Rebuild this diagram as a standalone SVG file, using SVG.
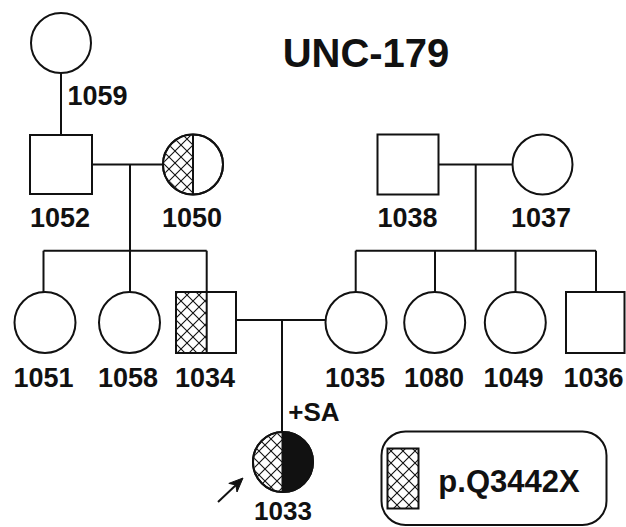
<svg xmlns="http://www.w3.org/2000/svg" width="626" height="527" viewBox="0 0 626 527">
<style>
.s{fill:#fff;stroke:#111;stroke-width:2}
.n{fill:none;stroke:#111;stroke-width:2}
.h{fill:url(#hatch);stroke:none}
.t{font-family:"Liberation Sans",Arial,sans-serif;font-weight:bold;fill:#111;text-anchor:middle}
.lbl{font-size:27px}
</style>
<defs>
<pattern id="hatch" patternUnits="userSpaceOnUse" width="12" height="12" x="1" y="1">
<rect width="12" height="12" fill="#fff"/>
<path d="M0,0 L12,12 M12,0 L0,12 M-1,11 L1,13 M11,-1 L13,1" stroke="#111" stroke-width="1.1"/>
</pattern>
<clipPath id="c1050L"><rect x="163" y="134" width="30" height="62"/></clipPath>
<clipPath id="c1033L"><rect x="252" y="431" width="31" height="62"/></clipPath>
<clipPath id="c1033R"><rect x="283" y="431" width="31" height="62"/></clipPath>
</defs>

<g id="connectors">
<line class="n" x1="61" y1="73" x2="61" y2="135"/>
<line class="n" x1="92" y1="164.5" x2="163" y2="164.5"/>
<line class="n" x1="130" y1="164.5" x2="130" y2="292"/>
<line class="n" x1="43.5" y1="250.7" x2="206.7" y2="250.7"/>
<line class="n" x1="43.5" y1="250.7" x2="43.5" y2="292"/>
<line class="n" x1="206.7" y1="250.7" x2="206.7" y2="292"/>
<line class="n" x1="438" y1="164.5" x2="512.5" y2="164.5"/>
<line class="n" x1="475.7" y1="164.5" x2="475.7" y2="250.7"/>
<line class="n" x1="355.7" y1="250.7" x2="596" y2="250.7"/>
<line class="n" x1="355.7" y1="250.7" x2="355.7" y2="292"/>
<line class="n" x1="435" y1="250.7" x2="435" y2="292"/>
<line class="n" x1="515.5" y1="250.7" x2="515.5" y2="292"/>
<line class="n" x1="596" y1="250.7" x2="596" y2="292"/>
<line class="n" x1="236" y1="320" x2="325" y2="320"/>
<line class="n" x1="282" y1="320" x2="282" y2="432"/>
<line class="n" x1="218" y1="502" x2="236" y2="485"/>
<polygon points="243,478 237,492 235.8,484.9 228.8,483.4" fill="#111" stroke="#111" stroke-width="1" stroke-linejoin="round"/>
</g>

<text class="t" x="366" y="67" style="font-size:40px">UNC-179</text>

<g id="n1059"><circle class="s" cx="61" cy="43" r="30"/><text class="t lbl" x="97.5" y="105">1059</text></g>
<g id="n1052"><rect class="s" x="30" y="135" width="62" height="59"/><text class="t lbl" x="60" y="227">1052</text></g>
<g id="n1050">
<circle class="s" cx="193" cy="164.5" r="30"/>
<circle class="h" cx="193" cy="164.5" r="29" clip-path="url(#c1050L)"/>
<circle class="n" cx="193" cy="164.5" r="30"/>
<line class="n" x1="193" y1="134.5" x2="193" y2="194.5"/>
<text class="t lbl" x="192" y="227">1050</text></g>
<g id="n1038"><rect class="s" x="377.5" y="134.5" width="61" height="60"/><text class="t lbl" x="407.5" y="227">1038</text></g>
<g id="n1037"><circle class="s" cx="542.5" cy="164.5" r="30"/><text class="t lbl" x="541" y="227">1037</text></g>

<g id="n1051"><circle class="s" cx="45" cy="322.5" r="30.5"/><text class="t lbl" x="43.5" y="387">1051</text></g>
<g id="n1058"><circle class="s" cx="129.5" cy="322.5" r="30.5"/><text class="t lbl" x="128" y="387">1058</text></g>
<g id="n1034">
<rect class="s" x="176" y="292" width="60" height="61"/>
<rect class="h" x="177" y="293" width="29.7" height="59"/>
<rect class="n" x="176" y="292" width="60" height="61"/>
<line class="n" x1="206.7" y1="292" x2="206.7" y2="353"/>
<text class="t lbl" x="205" y="387">1034</text></g>
<g id="n1035"><circle class="s" cx="356" cy="322.5" r="30.5"/><text class="t lbl" x="355" y="387">1035</text></g>
<g id="n1080"><circle class="s" cx="434.7" cy="322.5" r="30.5"/><text class="t lbl" x="434" y="387">1080</text></g>
<g id="n1049"><circle class="s" cx="515.3" cy="322.5" r="30.5"/><text class="t lbl" x="513.5" y="387">1049</text></g>
<g id="n1036"><rect class="s" x="566" y="292" width="58.5" height="61"/><text class="t lbl" x="593.5" y="387">1036</text></g>

<text class="t" x="314" y="421" style="font-size:26px">+SA</text>

<g id="n1033">
<circle class="s" cx="283" cy="462" r="30"/>
<circle class="h" cx="283" cy="462" r="29" clip-path="url(#c1033L)"/>
<circle cx="283" cy="462" r="30" fill="#111" clip-path="url(#c1033R)"/>
<circle class="n" cx="283" cy="462" r="30"/>
<line class="n" x1="282.5" y1="432" x2="282.5" y2="492"/>
<text class="t" x="283" y="520" style="font-size:26px">1033</text></g>

<g id="legend">
<rect class="n" x="381.5" y="431.5" width="225" height="93.5" rx="24" ry="24"/>
<rect class="h" x="387.5" y="448.5" width="31" height="60"/>
<rect class="n" x="387.5" y="448.5" width="31" height="60"/>
<text class="t" x="509" y="491.5" style="font-size:31px">p.Q3442X</text>
</g>
</svg>
